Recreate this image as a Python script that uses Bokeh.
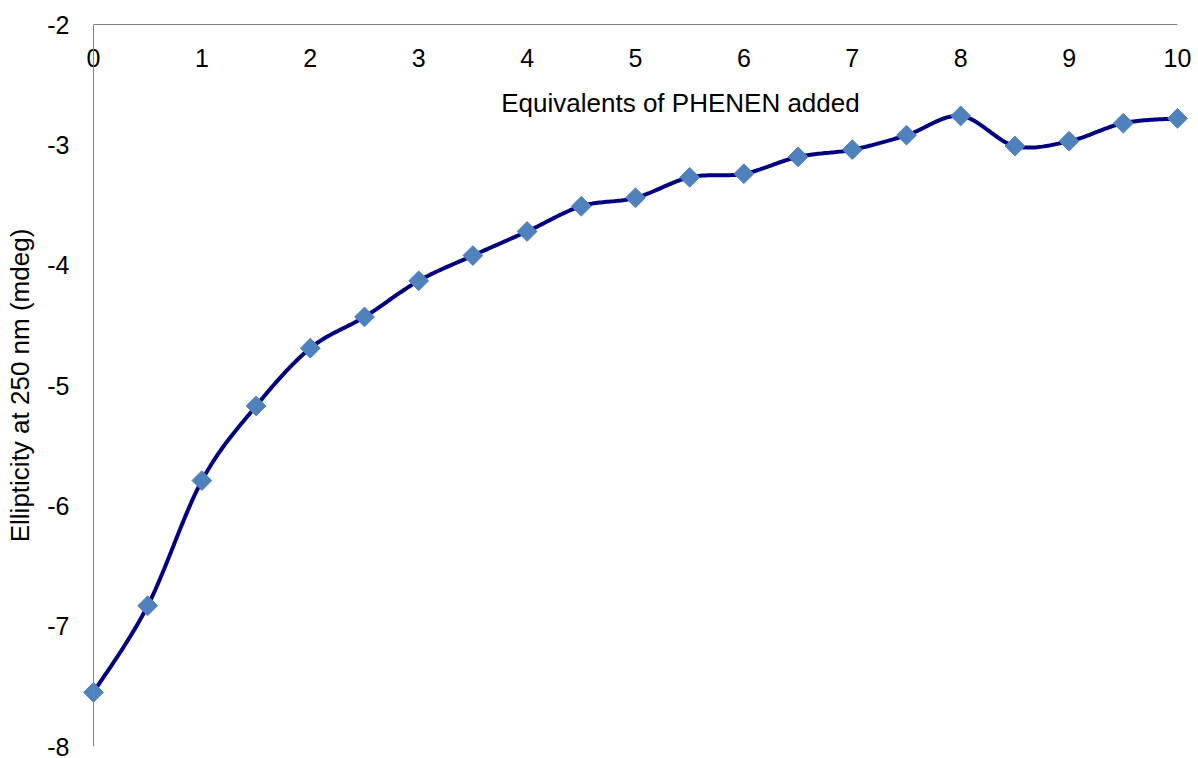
import numpy as np
from bokeh.plotting import figure
from bokeh.models import Range1d, LinearAxis, FixedTicker, CustomJSTickFormatter, Label
from bokeh.embed import file_html
from bokeh.resources import INLINE

# Data
equivalents = [0, 0.5, 1, 1.5, 2, 2.5, 3, 3.5, 4, 4.5, 5, 5.5, 6, 6.5, 7, 7.5, 8, 8.5, 9, 9.5, 10]
ellipticity = [-7.55, -6.83, -5.79, -5.17, -4.69, -4.43, -4.13, -3.92, -3.72, -3.51, -3.44,
               -3.27, -3.24, -3.10, -3.04, -2.92, -2.76, -3.01, -2.97, -2.82, -2.78]
x_ticks = [0, 1, 2, 3, 4, 5, 6, 7, 8, 9, 10]
y_ticks = [-8, -7, -6, -5, -4, -3, -2]
x_title = "Equivalents of PHENEN added"
y_title = "Ellipticity at 250 nm (mdeg)"


def smooth(xs, ys, n=30):
    """Excel-like smoothed line (cubic Bezier, Catmull-Rom tangents / 6)."""
    P = np.column_stack([xs, ys]).astype(float)
    out = []
    m = len(P)
    for i in range(m - 1):
        p0 = P[i - 1] if i > 0 else P[i]
        p1 = P[i]
        p2 = P[i + 1]
        p3 = P[i + 2] if i + 2 < m else P[i + 1]
        c1 = p1 + (p2 - p0) / 6.0
        c2 = p2 - (p3 - p1) / 6.0
        t = np.linspace(0, 1, n, endpoint=(i == m - 2))[:, None]
        b = ((1 - t) ** 3) * p1 + 3 * ((1 - t) ** 2) * t * c1 + 3 * (1 - t) * t ** 2 * c2 + t ** 3 * p2
        out.append(b)
    out = np.vstack(out)
    return out[:, 0], out[:, 1]


px_per_x = 108.4
pad_px = 20
pad = pad_px / px_per_x

p = figure(
    output_backend="svg",
    toolbar_location=None,
    frame_width=1084 + 2 * pad_px,
    frame_height=722,
    min_border_left=93 - pad_px,
    min_border_right=1,
    min_border_top=24,
    min_border_bottom=12,
    x_range=Range1d(-pad, 10 + pad),
    y_range=Range1d(-8, -2),
    x_axis_location=None,
    y_axis_location=None,
)
p.outline_line_color = None
p.xgrid.visible = False
p.ygrid.visible = False
p.background_fill_color = "white"
p.border_fill_color = "white"

fmt = CustomJSTickFormatter(code="return String(tick);")
blank = CustomJSTickFormatter(code="return '';")

common = dict(
    major_tick_line_color=None,
    minor_tick_line_color=None,
    major_tick_out=0,
    major_tick_in=0,
    major_label_text_font="Liberation Sans",
    major_label_text_font_size="25px",
    axis_label_text_font="Liberation Sans",
    axis_label_text_font_size="26px",
    axis_label_text_font_style="normal",
    axis_label_text_color="black",
)

# x axis drawn at y = -2 (top of the frame), labels below the line
xaxis = LinearAxis(
    fixed_location=-2,
    bounds=(0, 10),
    ticker=FixedTicker(ticks=x_ticks),
    formatter=fmt,
    axis_line_color="black",
    axis_line_width=1,
    major_label_standoff=24,
    major_label_text_color="black",
    **common,
)
p.add_layout(xaxis, "below")

# x axis title (placed to the right of centre, as in the reference)
p.add_layout(Label(
    x=5.415, y=-2, y_offset=-78, text=x_title,
    text_align="center", text_baseline="middle",
    text_font="Liberation Sans", text_font_size="26px", text_color="black",
))

# y axis line at x = 0
yline = LinearAxis(
    fixed_location=0,
    bounds=(-8, -2),
    ticker=FixedTicker(ticks=y_ticks),
    formatter=blank,
    axis_line_color="#808080",
    axis_line_width=1,
    **common,
)
p.add_layout(yline, "left")

# y labels and title in the left panel
ylab = LinearAxis(
    ticker=FixedTicker(ticks=y_ticks),
    formatter=fmt,
    axis_label=y_title,
    axis_line_color=None,
    major_label_standoff=4,
    axis_label_standoff=9,
    major_label_text_color="black",
    **common,
)
p.add_layout(ylab, "left")

sx, sy = smooth(equivalents, ellipticity)
p.line(sx, sy, line_color="#000080", line_width=4)
p.scatter(equivalents, ellipticity, marker="square", size=14, angle=np.pi / 4,
          fill_color="#4F81BD", line_color="#4F81BD")

open("out.html", "w").write(file_html(p, INLINE))
